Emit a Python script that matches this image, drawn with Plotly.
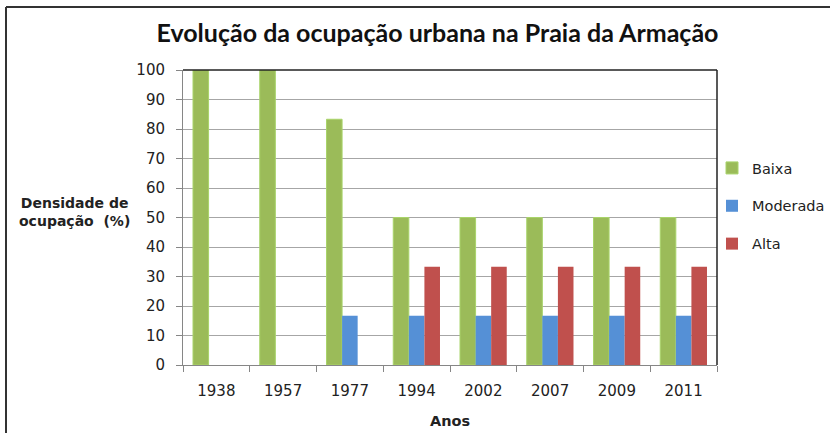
import plotly.graph_objects as go

anos = ["1938", "1957", "1977", "1994", "2002", "2007", "2009", "2011"]
baixa = [100, 100, 83.3, 50, 50, 50, 50, 50]
moderada = [0, 0, 16.7, 16.7, 16.7, 16.7, 16.7, 16.7]
alta = [0, 0, 0, 33.3, 33.3, 33.3, 33.3, 33.3]
y_ticks = list(range(0, 101, 10))

W, H = 830, 433
L, R, T, B = 183, 717, 70, 365
pw, ph = R - L, B - T

fig = go.Figure()
fig.add_bar(x=anos, y=baixa, name="Baixa", legendgroup="a",
            marker=dict(color="#9BBB59", line=dict(color="#A9D46A", width=1)))
fig.add_bar(x=anos, y=moderada, name="Moderada", legendgroup="b",
            marker=dict(color="#5590D6", line=dict(width=0)))
fig.add_bar(x=anos, y=alta, name="Alta", legendgroup="c",
            marker=dict(color="#C0504D", line=dict(width=0)))

tick_font = dict(family="DejaVu Sans", size=15, color="#222")

fig.update_layout(
    width=W, height=H,
    margin=dict(l=L, r=W - R, t=T, b=H - B, autoexpand=False),
    paper_bgcolor="white", plot_bgcolor="white",
    barmode="group", bargap=0.3, bargroupgap=0,
    title=dict(text="<b>Evolução da ocupação urbana na Praia da Armação</b>",
               font=dict(family="Lato", size=25, color="#111"),
               x=(155 + 720) / 2 / W, xanchor="center", y=1 - 33 / H, yanchor="middle"),
    showlegend=True,
    legend=dict(x=(712 - L) / pw, y=1 - (152 - T) / ph, xanchor="left", yanchor="top",
                font=dict(family="DejaVu Sans", size=14.5, color="#222"),
                itemwidth=30, traceorder="grouped", tracegroupgap=16, bgcolor="rgba(0,0,0,0)"),
    xaxis=dict(type="category", showgrid=False, showline=True, linecolor="#868686", linewidth=1,
               ticks="outside", ticklen=6, tickcolor="#868686", tickson="boundaries",
               ticklabelstandoff=12,
               tickfont=tick_font, title=dict(text="<b>Anos</b>", font=dict(family="DejaVu Sans", size=14.5, color="#222"), standoff=16)),
    yaxis=dict(range=[0, 100], tickvals=y_ticks, showgrid=True, gridcolor="#A6A6A6", gridwidth=1,
               showline=True, linecolor="#868686", linewidth=1, ticks="outside", ticklen=6,
               ticklabelstandoff=8,
               tickcolor="#868686", tickfont=tick_font, zeroline=False),
)

# plot-area frame (top & right dark)
fig.add_shape(type="line", xref="paper", yref="paper", x0=0, x1=1, y0=1, y1=1, line=dict(color="#222", width=1.5))
fig.add_shape(type="line", xref="paper", yref="paper", x0=1, x1=1, y0=0, y1=1, line=dict(color="#222", width=1.5))

# outer chart border (top & left)
lx = (6 - L) / pw
ty = 1 + (T - 7) / ph
fig.add_shape(type="line", xref="paper", yref="paper", x0=lx, x1=(W + 10 - L) / pw, y0=ty, y1=ty, line=dict(color="#333", width=2))
fig.add_shape(type="line", xref="paper", yref="paper", x0=lx, x1=lx, y0=ty, y1=-(H + 10 - B) / ph, line=dict(color="#333", width=2))

fig.add_annotation(text="<b>Densidade de<br>ocupação  (%)</b>", xref="paper", yref="paper",
                   x=(74 - L) / pw, y=1 - (212 - T) / ph, xanchor="center", yanchor="middle",
                   showarrow=False, align="center", font=dict(family="DejaVu Sans", size=14, color="#222"))

fig.write_html("out.html", config={"displayModeBar": False},
               post_script="document.body.style.margin='0';document.body.style.overflow='hidden';")
